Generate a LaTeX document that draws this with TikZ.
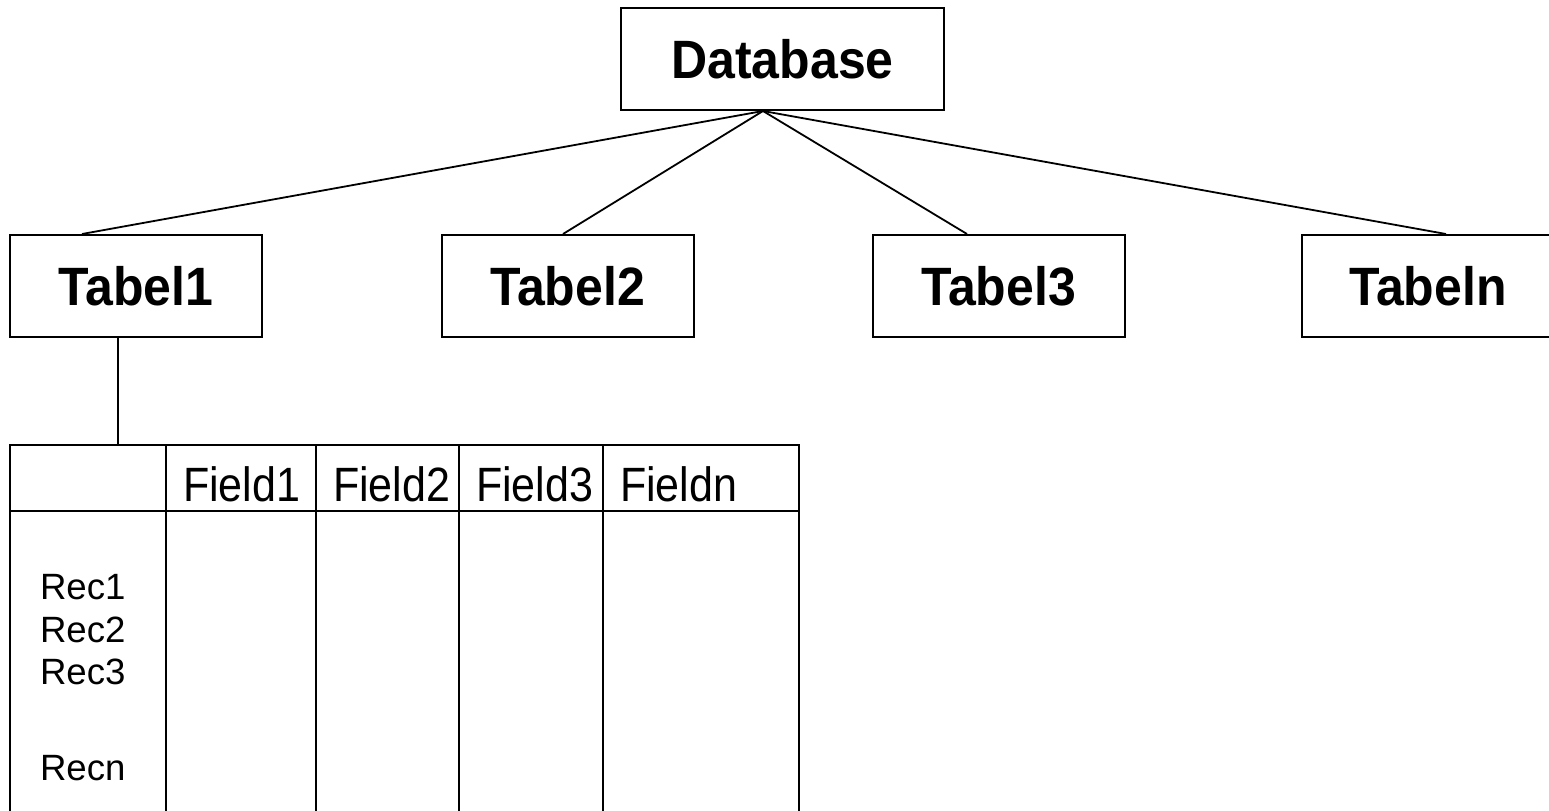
\documentclass[tikz,border=0pt]{standalone}
\usepackage{fontspec}
\setmainfont{Liberation Sans}
\usetikzlibrary{positioning}
\begin{document}
\begin{tikzpicture}[x=0.5pt, y=-0.5pt, line width=1pt]
    \tikzstyle{tbox}=[draw, line width=1pt, minimum width=126pt, minimum height=51pt, inner sep=0pt, font=\fontsize{25}{30}\selectfont\bfseries]
    \tikzstyle{conn}=[line width=0.9pt]
    \tikzstyle{lbl}=[inner sep=0pt, font=\fontsize{21.5}{26}\selectfont]
    \tikzstyle{rlbl}=[inner sep=0pt, font=\fontsize{18.3}{22}\selectfont]

    \useasboundingbox (0, 0) rectangle (1549, 810);

    % database and tables
    \node[tbox, minimum width=161.5pt] (db) at (782.5, 59) {\scalebox{1}[1.08]{Database}};
    \foreach \n/\x in {1/136, 2/567.5, 3/998.5, n/1428} {
        \node[tbox] (tabel\n) at (\x, 286) {\scalebox{1}[1.08]{Tabel\n}};
    }
    \foreach \n/\s in {1/-27, 2/-2.25, 3/-15.75, n/9} {
        \draw[conn] ([xshift=-9.75pt]db.south) -- ([xshift=\s pt]tabel\n.north);
    }

    % table of Tabel1
    \coordinate (tbltop) at (118, 445);
    \draw[conn] ([xshift=-9pt]tabel1.south) -- (tbltop);

    \draw (10, 815) -- (10, 445) -- (799, 445) -- (799, 815);
    \draw (10, 511) -- (799, 511);
    \foreach \x in {166, 316, 459, 603} {
        \draw (\x, 445) -- (\x, 815);
    }

    \foreach \x/\t in {166/Field1, 316/Field2, 459/Field3, 603/Fieldn} {
        \node[lbl, anchor=base west] (\t) at (\x + 16, 501) {\scalebox{1}[1.12]{\t}};
    }
    \foreach \y/\t in {599/Rec1, 642/Rec2, 684/Rec3, 780/Recn} {
        \node[rlbl, anchor=base west] (\t) at (39, \y) {\t};
    }
\end{tikzpicture}
\end{document}
